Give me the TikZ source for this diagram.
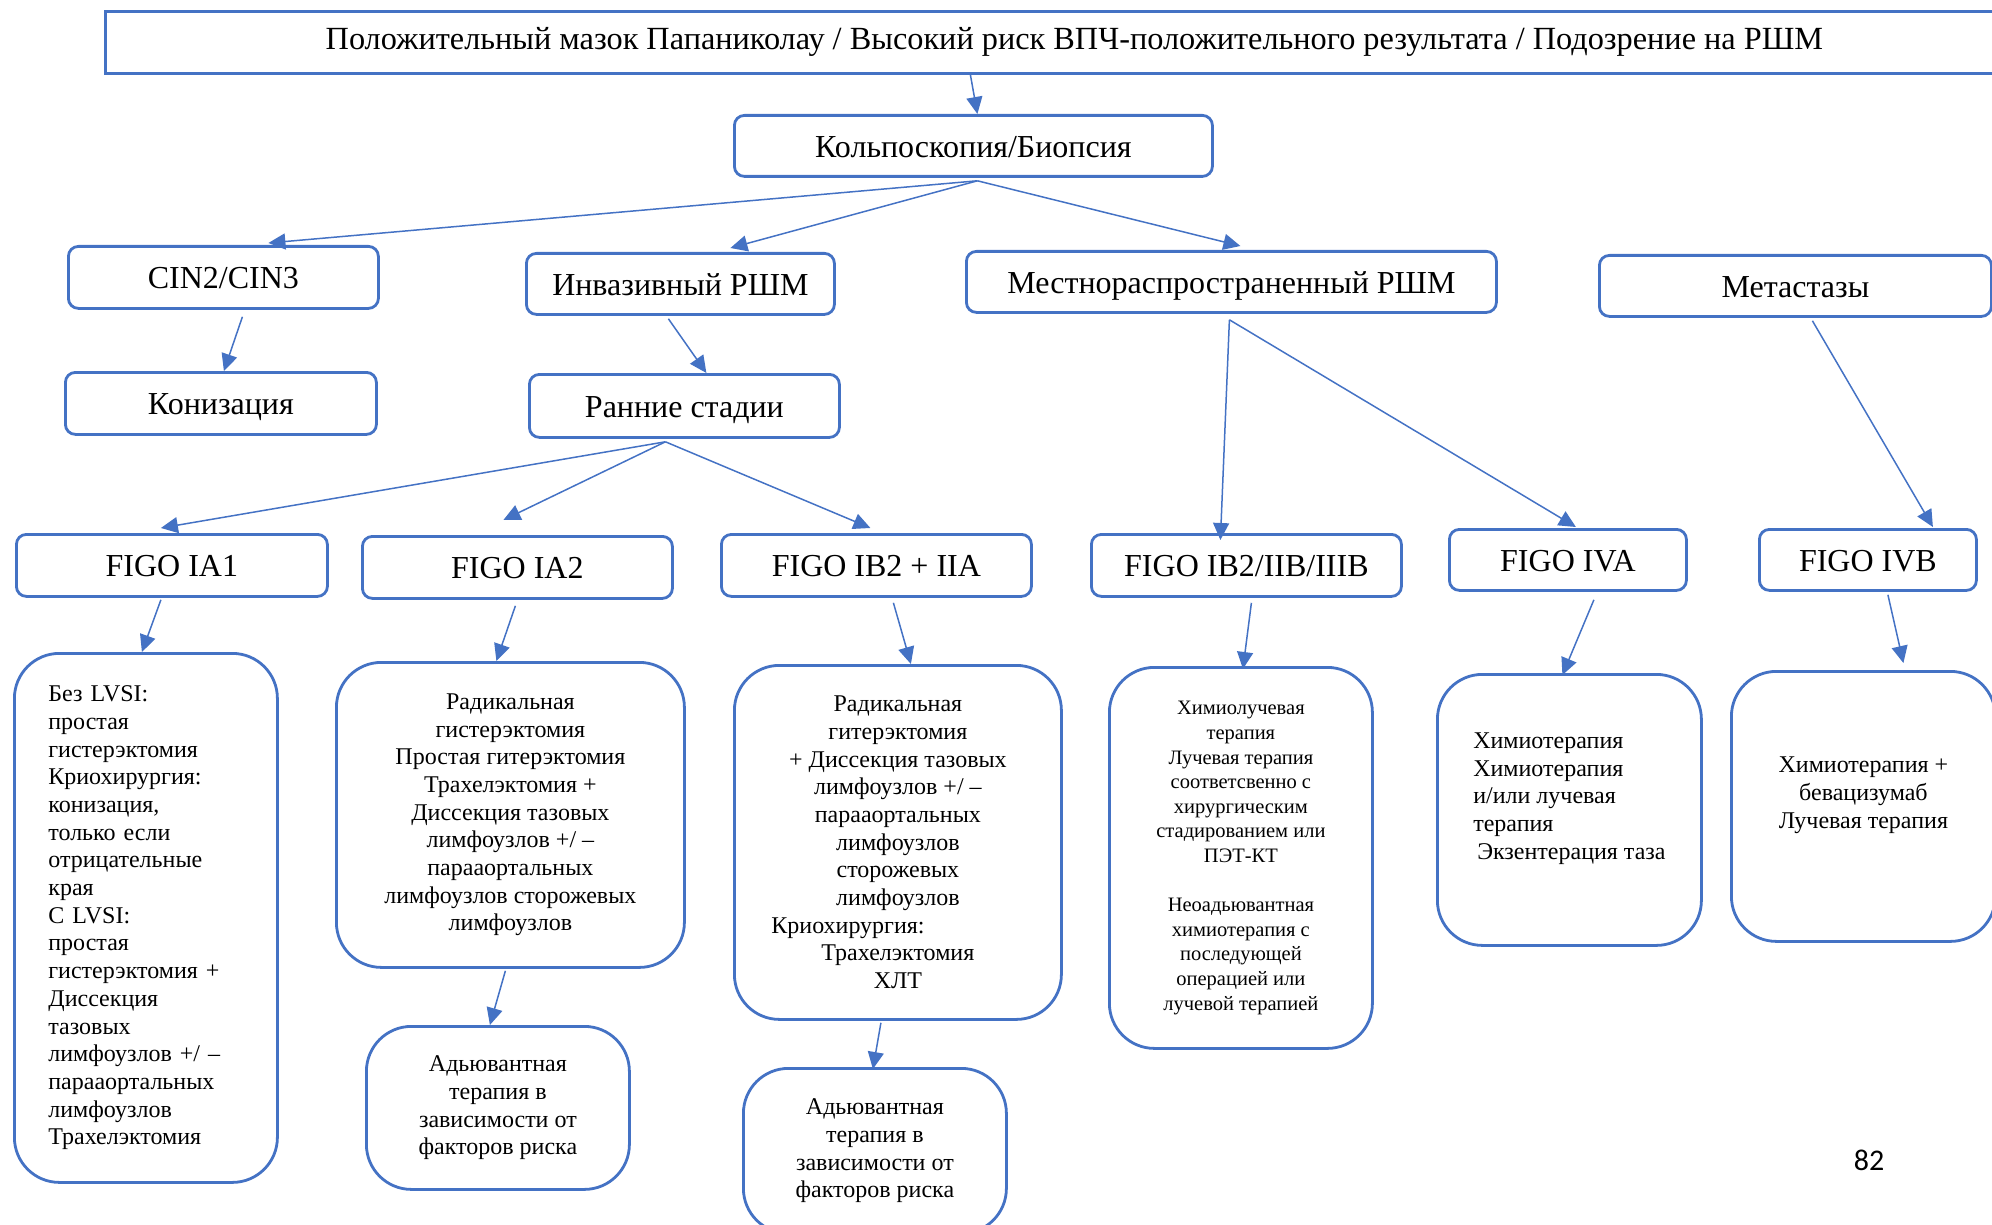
\documentclass[tikz,border=0pt]{standalone}
\usepackage{fontspec}
\setmainfont{Liberation Serif}
\newfontfamily\pagefont{Carlito}
\usetikzlibrary{arrows.meta}
\definecolor{bl}{RGB}{68,114,196}
\newcommand{\fsz}[2]{\fontsize{#1}{#2}\selectfont}
\tikzset{
  sbox/.style={draw=bl, line width=2.8pt, rounded corners=10pt, inner sep=0pt, anchor=north west, font=\fsz{32pt}{38pt}, text height=25pt, text depth=2pt},
  tbox/.style={draw=bl, line width=2.8pt, inner sep=0pt, anchor=north west, font=\fsz{32.3pt}{39pt}},
  dbox/.style={draw=bl, line width=2.8pt, rounded corners=45pt, inner sep=0pt, anchor=north west, align=center, font=\fsz{24pt}{27.7pt}},
  arr/.style={draw=bl, line width=1.5pt, -{Triangle[length=17pt,width=16pt]}}
}
\begin{document}
\begin{tikzpicture}[x=1pt,y=-1pt]
\clip (0,0) rectangle (1992,1225);
% top rows
\node[tbox, minimum width=1938pt, minimum height=62pt] (top) at (104,10) {Положительный мазок Папаниколау / Высокий риск ВПЧ-положительного результата / Подозрение на РШМ};
\node[sbox, minimum width=478pt, minimum height=61pt] (kolpo) at (733,114) {Кольпоскопия/Биопсия};
\node[sbox, minimum width=310pt, minimum height=62pt] (cin) at (67,245) {CIN2/CIN3};
\node[sbox, minimum width=308pt, minimum height=61pt] (inv) at (525,252) {Инвазивный РШМ};
\node[sbox, minimum width=530pt, minimum height=61pt] (loc) at (965,250) {Местнораспространенный РШМ};
\node[sbox, minimum width=392pt, minimum height=61pt] (meta) at (1598,254) {Метастазы};
\node[sbox, minimum width=311pt, minimum height=62pt] (kon) at (64,371) {Конизация};
\node[sbox, minimum width=310pt, minimum height=63pt] (early) at (528,373) {Ранние стадии};
% FIGO row
\node[sbox, minimum width=311pt, minimum height=62pt] (ia1) at (15,533) {FIGO IA1};
\node[sbox, minimum width=310pt, minimum height=62pt] (ia2) at (361,535) {FIGO IA2};
\node[sbox, minimum width=310pt, minimum height=62pt] (ib2a) at (720,533) {FIGO IB2 + IIA};
\node[sbox, minimum width=310pt, minimum height=62pt] (ib2b) at (1090,533) {FIGO IB2/IIB/IIIB};
\node[sbox, minimum width=237pt, minimum height=61pt] (iva) at (1448,528) {FIGO IVA};
\node[sbox, minimum width=217pt, minimum height=61pt] (ivb) at (1758,528) {FIGO IVB};
% detail boxes
\node[dbox, align=left, text width=195pt, minimum width=263pt, minimum height=529pt] (d1) at (13,652) {Без LVSI:\\ простая\\ гистерэктомия\\ Криохирургия:\\ конизация,\\ только если\\ отрицательные\\ края\\ С LVSI:\\ простая\\ гистерэктомия +\\ Диссекция\\ тазовых\\ лимфоузлов +/ –\\ парааортальных\\ лимфоузлов\\ Трахелэктомия};
\node[dbox, minimum width=348pt, minimum height=305pt] (d2) at (335,661) {Радикальная\\ гистерэктомия\\ Простая гитерэктомия\\ Трахелэктомия +\\ Диссекция тазовых\\ лимфоузлов +/ –\\ парааортальных\\ лимфоузлов сторожевых\\ лимфоузлов};
\node[dbox, minimum width=263pt, minimum height=163pt] (a1) at (365,1025) {Адьювантная\\ терапия в\\ зависимости от\\ факторов риска};
\node[dbox, minimum width=327pt, minimum height=354pt] (d3) at (733,664) {Радикальная\\ гитерэктомия\\ + Диссекция тазовых\\ лимфоузлов +/ –\\ парааортальных\\ лимфоузлов\\ сторожевых\\ лимфоузлов\\ \makebox[253pt][l]{Криохирургия:}\\ Трахелэктомия\\ ХЛТ};
\node[dbox, minimum width=263pt, minimum height=165pt] (a2) at (742,1067) {Адьювантная\\ терапия в\\ зависимости от\\ факторов риска};
\node[dbox, font=\fsz{20.5pt}{24.6pt}, minimum width=263pt, minimum height=381pt] (d4) at (1108,666) {Химиолучевая\\ терапия\\ Лучевая терапия\\ соответсвенно с\\ хирургическим\\ стадированием или\\ ПЭТ-КТ\\[24.6pt] Неоадьювантная\\ химиотерапия с\\ последующей\\ операцией или\\ лучевой терапией};
\node[dbox, align=left, minimum width=264pt, minimum height=271pt] (d5) at (1436,673) {Химиотерапия\\ Химиотерапия\\ и/или лучевая\\ терапия\\ \hspace*{4pt}Экзентерация таза\\ \mbox{}};
\node[dbox, minimum width=264pt, minimum height=270pt] (d6) at (1730,670) {Химиотерапия +\\ бевацизумаб\\ Лучевая терапия\\ \mbox{}};
\node[font=\pagefont\fsz{30pt}{36pt}, inner sep=0pt] (pg) at (1869,1160) {82};
% connectors
\draw[arr] ([xshift=-104pt]top.south) -- ([xshift=4pt]kolpo.north);
\draw[arr] ([xshift=4pt,yshift=-3pt]kolpo.south) -- ([xshift=45pt,yshift=2pt]cin.north);
\draw[arr] ([xshift=4pt,yshift=-3pt]kolpo.south) -- ([xshift=50pt,yshift=4pt]inv.north);
\draw[arr] ([xshift=4pt,yshift=-3pt]kolpo.south) -- ([xshift=9pt,yshift=4pt]loc.north);
\draw[arr] ([xshift=19pt,yshift=-7pt]cin.south) -- ([xshift=3pt]kon.north);
\draw[arr] ([xshift=-12pt,yshift=-3pt]inv.south) -- ([xshift=22pt]early.north);
\draw[arr] ([xshift=-19pt,yshift=-3pt]early.south) -- ([xshift=-11pt,yshift=5pt]ia1.north);
\draw[arr] ([xshift=-19pt,yshift=-3pt]early.south) -- ([xshift=-14pt,yshift=15pt]ia2.north);
\draw[arr] ([xshift=-19pt,yshift=-3pt]early.south) -- ([xshift=-6pt,yshift=5pt]ib2a.north);
\draw[arr] ([xshift=-2pt,yshift=-6pt]loc.south) -- ([xshift=-26pt,yshift=-7pt]ib2b.north);
\draw[arr] ([xshift=-2pt,yshift=-6pt]loc.south) -- ([xshift=8pt,yshift=1pt]iva.north);
\draw[arr] ([xshift=17pt,yshift=-3pt]meta.south) -- ([xshift=65pt,yshift=1pt]ivb.north);
\draw[arr] ([xshift=-11pt,yshift=-2pt]ia1.south) -- ([xshift=-4pt]d1.north);
\draw[arr] ([xshift=-2pt,yshift=-6pt]ia2.south) -- ([xshift=-14pt]d2.north);
\draw[arr] ([xshift=17pt,yshift=-5pt]ib2a.south) -- ([xshift=13pt]d3.north);
\draw[arr] ([xshift=5pt,yshift=-5pt]ib2b.south) -- ([xshift=2pt,yshift=-3pt]d4.north);
\draw[arr] ([xshift=26pt,yshift=-8pt]iva.south) -- ([xshift=-7pt,yshift=-2pt]d5.north);
\draw[arr] ([xshift=20pt,yshift=-3pt]ivb.south) -- ([xshift=40pt,yshift=7pt]d6.north);
\draw[arr] ([xshift=-5pt,yshift=-2pt]d2.south) -- ([xshift=-8pt]a1.north);
\draw[arr] ([xshift=-17pt,yshift=-2pt]d3.south) -- ([xshift=-2pt,yshift=-2pt]a2.north);
\end{tikzpicture}
\end{document}
